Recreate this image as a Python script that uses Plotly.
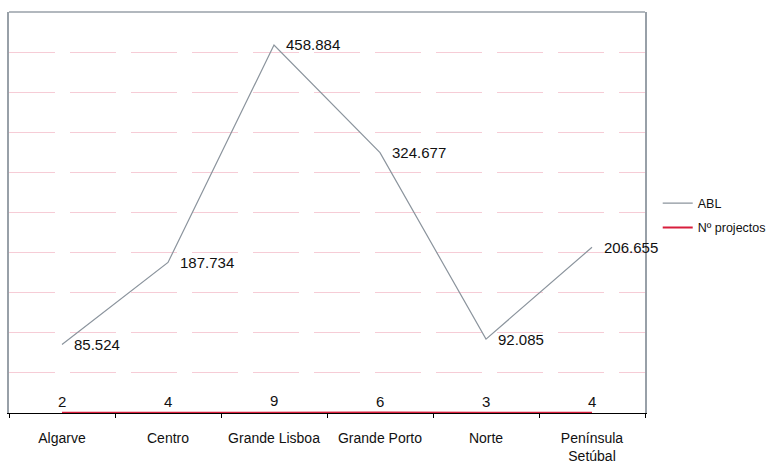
import plotly.graph_objects as go

# Regional data
regioes = ["Algarve", "Centro", "Grande Lisboa", "Grande Porto", "Norte", "Península<br>Setúbal"]
abl = [85.524, 187.734, 458.884, 324.677, 92.085, 206.655]
n_projectos = [2, 4, 9, 6, 3, 4]

abl_labels = ["85.524", "187.734", "458.884", "324.677", "92.085", "206.655"]
proj_labels = [str(v) for v in n_projectos]

font_family = "Liberation Sans, Arial, sans-serif"

fig = go.Figure()

fig.add_trace(go.Scatter(
    x=regioes, y=abl, name="ABL", mode="lines",
    line=dict(color="#8b949d", width=1.2),
    cliponaxis=False, legendgroup="a",
))
fig.add_trace(go.Scatter(
    x=regioes, y=n_projectos, name="Nº projectos", mode="lines",
    line=dict(color="#d81e3c", width=2),
    yaxis="y2", cliponaxis=False, legendgroup="b",
))

annotations = []
for r, v, t in zip(regioes, abl, abl_labels):
    annotations.append(dict(
        x=r, y=v, xref="x", yref="y", text=t, showarrow=False,
        xanchor="left", yanchor="middle", xshift=10,
        font=dict(family=font_family, size=15, color="#111111"),
    ))
for r, v, t in zip(regioes, n_projectos, proj_labels):
    annotations.append(dict(
        x=r, y=v, xref="x", yref="y2", text=t, showarrow=False,
        xanchor="center", yanchor="bottom", yshift=1,
        font=dict(family=font_family, size=15, color="#111111"),
    ))

fig.update_layout(
    width=767, height=464,
    margin=dict(l=9, r=122, t=12, b=51, autoexpand=False),
    paper_bgcolor="white", plot_bgcolor="white",
    showlegend=True,
    legend=dict(
        x=1.02, y=0.4925, xanchor="left", yanchor="middle",
        font=dict(family=font_family, size=12.5, color="#111111"),
        bgcolor="rgba(0,0,0,0)", traceorder="grouped", tracegroupgap=5,
        itemwidth=30,
    ),
    xaxis=dict(
        type="category", range=[-0.5, 5.5],
        showgrid=False, showline=True, linecolor="#000000", linewidth=1,
        ticks="outside", ticklen=4, tickcolor="#000000", tickson="boundaries",
        tickangle=0, automargin=False,
        tickfont=dict(family=font_family, size=14, color="#111111"),
        ticklabelstandoff=12, layer="below traces", zeroline=False,
    ),
    yaxis=dict(
        range=[0, 500], dtick=50, showticklabels=False, ticks="",
        showgrid=True, gridcolor="#f6ccd6", gridwidth=1, griddash="46px,15px",
        showline=True, linecolor="#98a0a8", linewidth=1.5, mirror=True,
        zeroline=False, automargin=False,
    ),
    yaxis2=dict(
        range=[0, 5000], overlaying="y", visible=False,
    ),
    annotations=annotations,
    shapes=[dict(
        type="line", xref="paper", yref="paper", x0=0, x1=1, y0=1, y1=1,
        line=dict(color="#98a0a8", width=1.5),
    )],
)

fig.write_html("out.html")
